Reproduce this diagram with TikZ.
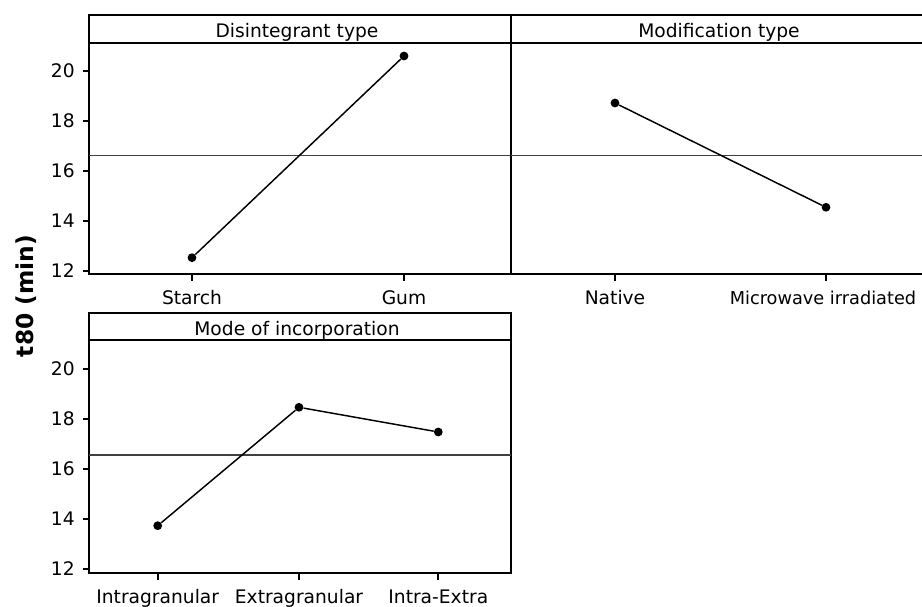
\documentclass[tikz,border=0pt]{standalone}
\usepackage{fontspec}
\setmainfont{DejaVu Sans}
\usetikzlibrary{positioning}
\tikzstyle{every picture} += [x=0.75pt, y=-0.75pt]
\tikzstyle{frame} = [line width=1.3pt, black]
\tikzstyle{meanline} = [line width=0.9pt, black!75]
\tikzstyle{dataline} = [line width=1.1pt, black]
\tikzstyle{dot} = [circle, fill=black, inner sep=0pt, minimum size=6.6pt]
\tikzstyle{lbl} = [inner sep=0pt, font=\fontsize{14}{16}\selectfont]

\begin{document}
\begin{tikzpicture}
        \useasboundingbox (0,0) rectangle (922,607);

        % top left panel: Disintegrant type
        \draw[frame] (89,15) rectangle (511,274);
        \draw[frame] (89,43) -- (511,43);
        \draw[meanline] (89,155.7) -- (511,155.7);
        \node[lbl, anchor=base] (t1) at (297,37) {Disintegrant type};
        \foreach \v/\py in {20/71, 18/121, 16/171, 14/221, 12/271} {
            \draw[frame] (83,\py) -- (89,\py);
            \node[lbl, anchor=east] (ya\v) at (75,\py) {\v};
        }
        \foreach \px/\name in {192/Starch, 404/Gum} {
            \draw[frame] (\px,274) -- (\px,281);
            \node[lbl, anchor=base] at (\px,304) {\name};
        }
        \node[dot] (d1) at (192,257.7) {};
        \node[dot] (d2) at (404,56) {};
        \draw[dataline] (d1) -- (d2);

        % top right panel: Modification type
        \draw[frame] (511,15) -- (922,15);
        \draw[frame] (511,43) -- (922,43);
        \draw[frame] (511,274) -- (922,274);
        \draw[frame] (511,15) -- (511,274);
        \draw[meanline] (511,155.7) -- (922,155.7);
        \node[lbl, anchor=base] (t2) at (719,37) {Modification type};
        \draw[frame] (615,274) -- (615,281);
        \draw[frame] (826,274) -- (826,281);
        \node[lbl, anchor=base] (nat) at (615,304) {Native};
        \node[lbl, anchor=base, font=\fontsize{13.3}{16}\selectfont] (mic) at (823,304) {Microwave irradiated};
        \node[dot] (m1) at (615,103) {};
        \node[dot] (m2) at (826,207.3) {};
        \draw[dataline] (m1) -- (m2);

        % bottom panel: Mode of incorporation
        \draw[frame] (89,312.7) rectangle (511,573.3);
        \draw[frame] (89,340.3) -- (511,340.3);
        \draw[meanline] (89,455) -- (511,455);
        \node[lbl, anchor=base] (t3) at (297,335) {Mode of incorporation};
        \foreach \v/\py in {20/369, 18/419, 16/469, 14/519, 12/569} {
            \draw[frame] (83,\py) -- (89,\py);
            \node[lbl, anchor=east] (yb\v) at (75,\py) {\v};
        }
        \foreach \px/\name in {157.7/Intragranular, 299/Extragranular, 438.3/Intra-Extra} {
            \draw[frame] (\px,573.3) -- (\px,580);
            \node[lbl, anchor=base] at (\px,603) {\name};
        }
        \node[dot] (i1) at (157.7,525.7) {};
        \node[dot] (i2) at (299,407.3) {};
        \node[dot] (i3) at (438.3,432) {};
        \draw[dataline] (i1) -- (i2) -- (i3);

        % y axis title
        \node[inner sep=0pt, rotate=90, font=\fontsize{17.5}{20}\selectfont\bfseries] (ytitle) at (26,296) {t80 (min)};
    \end{tikzpicture}
\end{document}
